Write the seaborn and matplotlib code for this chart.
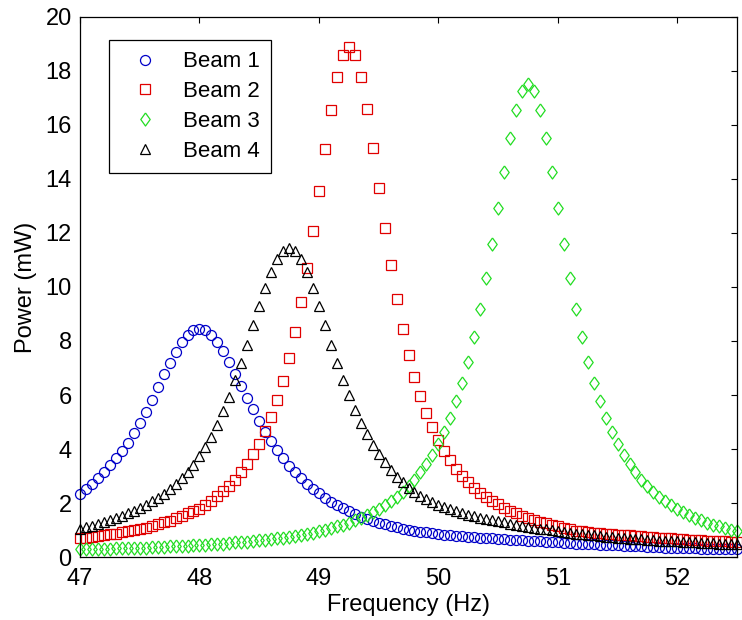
import pandas as pd
import seaborn as sns
import numpy as np
import matplotlib
matplotlib.use("Agg")
import matplotlib.pyplot as plt

# frequency sweep (Hz), shared by all four beams
freq = [
    47.00, 47.05, 47.10, 47.15, 47.20, 47.25, 47.30, 47.35, 47.40, 47.45,
    47.50, 47.55, 47.60, 47.65, 47.70, 47.75, 47.80, 47.85, 47.90, 47.95,
    48.00, 48.05, 48.10, 48.15, 48.20, 48.25, 48.30, 48.35, 48.40, 48.45,
    48.50, 48.55, 48.60, 48.65, 48.70, 48.75, 48.80, 48.85, 48.90, 48.95,
    49.00, 49.05, 49.10, 49.15, 49.20, 49.25, 49.30, 49.35, 49.40, 49.45,
    49.50, 49.55, 49.60, 49.65, 49.70, 49.75, 49.80, 49.85, 49.90, 49.95,
    50.00, 50.05, 50.10, 50.15, 50.20, 50.25, 50.30, 50.35, 50.40, 50.45,
    50.50, 50.55, 50.60, 50.65, 50.70, 50.75, 50.80, 50.85, 50.90, 50.95,
    51.00, 51.05, 51.10, 51.15, 51.20, 51.25, 51.30, 51.35, 51.40, 51.45,
    51.50, 51.55, 51.60, 51.65, 51.70, 51.75, 51.80, 51.85, 51.90, 51.95,
    52.00, 52.05, 52.10, 52.15, 52.20, 52.25, 52.30, 52.35, 52.40, 52.45,
    52.50,
]

# power (mW)
beam1 = [
    2.34, 2.51, 2.70, 2.91, 3.14, 3.40, 3.68, 3.92, 4.22, 4.58,
    4.96, 5.38, 5.82, 6.30, 6.76, 7.20, 7.60, 7.96, 8.23, 8.40,
    8.46, 8.40, 8.23, 7.97, 7.62, 7.22, 6.79, 6.34, 5.90, 5.47,
    5.02, 4.62, 4.28, 3.96, 3.66, 3.38, 3.13, 2.91, 2.70, 2.51,
    2.36, 2.20, 2.05, 1.92, 1.80, 1.69, 1.59, 1.50, 1.42, 1.34,
    1.27, 1.21, 1.15, 1.10, 1.05, 1.01, 0.97, 0.94, 0.91, 0.88,
    0.85, 0.83, 0.81, 0.79, 0.77, 0.75, 0.73, 0.72, 0.70, 0.69,
    0.67, 0.66, 0.64, 0.63, 0.62, 0.60, 0.59, 0.58, 0.56, 0.55,
    0.54, 0.53, 0.51, 0.50, 0.49, 0.48, 0.47, 0.46, 0.45, 0.44,
    0.43, 0.42, 0.41, 0.40, 0.39, 0.38, 0.37, 0.36, 0.35, 0.34,
    0.33, 0.33, 0.32, 0.32, 0.31, 0.31, 0.30, 0.30, 0.29, 0.29,
    0.28,
]
beam2 = [
    0.69, 0.71, 0.74, 0.77, 0.80, 0.84, 0.87, 0.91, 0.95, 1.00,
    1.05, 1.09, 1.15, 1.21, 1.28, 1.35, 1.43, 1.52, 1.62, 1.71,
    1.78, 1.94, 2.09, 2.25, 2.43, 2.64, 2.87, 3.14, 3.45, 3.80,
    4.20, 4.66, 5.19, 5.82, 6.53, 7.36, 8.33, 9.43, 10.69, 12.08,
    13.57, 15.10, 16.54, 17.76, 18.58, 18.87, 18.58, 17.78, 16.58, 15.15,
    13.65, 12.18, 10.80, 9.56, 8.46, 7.50, 6.67, 5.96, 5.33, 4.80,
    4.34, 3.93, 3.58, 3.27, 3.00, 2.76, 2.56, 2.38, 2.22, 2.08,
    1.95, 1.83, 1.72, 1.62, 1.53, 1.45, 1.38, 1.31, 1.25, 1.19,
    1.14, 1.09, 1.04, 0.98, 0.95, 0.92, 0.90, 0.88, 0.86, 0.84,
    0.83, 0.81, 0.80, 0.78, 0.76, 0.75, 0.73, 0.72, 0.70, 0.69,
    0.67, 0.66, 0.64, 0.63, 0.62, 0.61, 0.60, 0.59, 0.58, 0.57,
    0.56,
]
beam3 = [
    0.28, 0.28, 0.29, 0.30, 0.30, 0.31, 0.32, 0.32, 0.33, 0.34,
    0.35, 0.35, 0.36, 0.37, 0.38, 0.39, 0.40, 0.41, 0.42, 0.44,
    0.44, 0.45, 0.47, 0.49, 0.50, 0.52, 0.54, 0.55, 0.57, 0.60,
    0.62, 0.64, 0.66, 0.69, 0.72, 0.75, 0.78, 0.82, 0.86, 0.90,
    0.95, 1.01, 1.07, 1.13, 1.20, 1.27, 1.36, 1.45, 1.55, 1.66,
    1.78, 1.91, 2.06, 2.23, 2.42, 2.63, 2.86, 3.13, 3.44, 3.78,
    4.18, 4.64, 5.16, 5.76, 6.45, 7.24, 8.15, 9.18, 10.33, 11.59,
    12.93, 14.27, 15.53, 16.57, 17.27, 17.51, 17.27, 16.57, 15.53, 14.27,
    12.93, 11.59, 10.33, 9.18, 8.15, 7.24, 6.45, 5.76, 5.16, 4.64,
    4.18, 3.78, 3.44, 3.13, 2.86, 2.63, 2.42, 2.23, 2.06, 1.91,
    1.78, 1.66, 1.55, 1.45, 1.36, 1.27, 1.20, 1.13, 1.07, 1.01,
    0.95,
]
beam4 = [
    1.05, 1.10, 1.15, 1.22, 1.29, 1.36, 1.43, 1.53, 1.62, 1.72,
    1.83, 1.94, 2.06, 2.20, 2.35, 2.51, 2.70, 2.91, 3.15, 3.42,
    3.73, 4.07, 4.46, 4.90, 5.39, 5.94, 6.54, 7.18, 7.87, 8.58,
    9.28, 9.96, 10.55, 11.02, 11.33, 11.43, 11.33, 11.02, 10.55, 9.96,
    9.28, 8.58, 7.87, 7.20, 6.57, 5.99, 5.45, 4.97, 4.54, 4.16,
    3.82, 3.51, 3.24, 2.96, 2.76, 2.57, 2.41, 2.27, 2.14, 2.03,
    1.94, 1.85, 1.77, 1.70, 1.62, 1.57, 1.51, 1.45, 1.40, 1.36,
    1.32, 1.28, 1.24, 1.20, 1.16, 1.12, 1.09, 1.05, 1.02, 0.99,
    0.95, 0.93, 0.89, 0.87, 0.84, 0.82, 0.80, 0.78, 0.75, 0.74,
    0.72, 0.70, 0.68, 0.67, 0.65, 0.63, 0.62, 0.61, 0.60, 0.59,
    0.58, 0.57, 0.56, 0.54, 0.53, 0.53, 0.52, 0.50, 0.50, 0.49,
    0.49,
]

labels = ["Beam 1", "Beam 2", "Beam 3", "Beam 4"]
x_ticks = [47, 48, 49, 50, 51, 52]
y_ticks = [0, 2, 4, 6, 8, 10, 12, 14, 16, 18, 20]

for b in (beam1, beam2, beam3, beam4):
    assert len(b) == len(freq)

df = pd.concat([
    pd.DataFrame({"freq": freq, "power": vals, "beam": lab})
    for lab, vals in zip(labels, [beam1, beam2, beam3, beam4])
])

sns.set_theme(style="white")
plt.rcParams["font.family"] = ["Liberation Sans", "DejaVu Sans"]
plt.rcParams["text.color"] = "black"
plt.rcParams["axes.labelcolor"] = "black"

fig = plt.figure(figsize=(7.42, 6.2), dpi=100)
ax = fig.add_axes([0.1078, 0.1016, 0.8855, 0.871])

diamond = [(0, 1), (0.72, 0), (0, -1), (-0.72, 0), (0, 1)]
styles = {
    "Beam 1": dict(marker="o", color="#0000c8", ms=7.2),
    "Beam 2": dict(marker="s", color="#e00000", ms=7.6),
    "Beam 3": dict(marker=diamond, color="#22dd22", ms=9.4),
    "Beam 4": dict(marker="^", color="black", ms=7.8),
}

for lab in labels:
    st = styles[lab]
    sns.lineplot(
        data=df[df["beam"] == lab], x="freq", y="power", ax=ax,
        linestyle="none", marker=st["marker"], markersize=st["ms"],
        markerfacecolor="none", markeredgecolor=st["color"],
        markeredgewidth=0.9, color=st["color"], errorbar=None,
        label=lab, clip_on=False,
    )

ax.set_xlim(47, 52.5)
ax.set_ylim(0, 20)
ax.set_xticks(x_ticks)
ax.set_yticks(y_ticks)
ax.tick_params(direction="in", length=4.5, width=0.8, labelsize=17,
               top=True, right=True, colors="black", pad=6)
ax.tick_params(axis="x", pad=8)
for sp in ax.spines.values():
    sp.set_color("black")
    sp.set_linewidth(0.9)

ax.set_xlabel("Frequency (Hz)", fontsize=17, labelpad=3, color="black")
ax.set_ylabel("Power (mW)", fontsize=17, labelpad=6, color="black")

leg = ax.legend(loc="upper left", bbox_to_anchor=(0.0446, 0.957),
                borderaxespad=0, fontsize=16, frameon=True, fancybox=False,
                framealpha=1, edgecolor="black", labelspacing=0.4,
                handlelength=2.2, handletextpad=0.6, borderpad=0.5)
leg.get_frame().set_linewidth(0.9)
for t in leg.get_texts():
    t.set_color("black")

fig.savefig("out.png", dpi=100)
